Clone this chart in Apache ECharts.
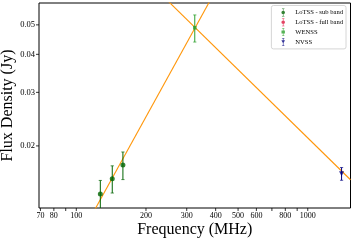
<!DOCTYPE html>
<html><head><meta charset="utf-8">
<script src="https://cdn.jsdelivr.net/npm/echarts@6/dist/echarts.min.js"></script>
<style>html,body{margin:0;padding:0;background:#fff}#c{width:353px;height:242px}</style>
</head><body><div id="c"></div>
<script>
// ---- data ----
const seriesNames = ['LoTSS - sub band', 'LoTSS - full band', 'WENSS', 'NVSS'];
const lotssSubFreq = [127, 143, 159];
const lotssSubFlux = [0.0139, 0.0156, 0.0173];
const lotssSubErr = [0.0015, 0.0016, 0.0018];
const lotssFullFreq = [];
const lotssFullFlux = [];
const lotssFullErr = [];
const wenssFreq = [325];
const wenssFlux = [0.0489];
const wenssErr = [0.0050];
const nvssFreq = [1400];
const nvssFlux = [0.0162];
const nvssErr = [0.00078];
// power-law fits: S = pivotFlux * (nu / pivotFreq)^alpha
const fitPivotFreq = [325, 325];
const fitPivotFlux = [0.0487, 0.0491];
const fitAlpha = [1.38, -0.745];
// axes
const xMin = 69, xMax = 1530, yMin = 0.0125, yMax = 0.059;
const xTickValues = [70, 80, 90, 100, 200, 300, 400, 500, 600, 700, 800, 900, 1000];
const xTickLabels = ['70', '80', '', '100', '200', '300', '400', '500', '600', '', '800', '', '1000'];
const yTickValues = [0.02, 0.03, 0.04, 0.05];
const yTickLabels = ['0.02', '0.03', '0.04', '0.05'];

const FONT = '"Liberation Serif", "DejaVu Serif", serif';
const colSub = '#006400', colFull = '#dc143c', colWenss = '#2ca02c', colNvss = '#000080', colFit = '#ff960a';

function pts(f, s) { return f.map((v, i) => [v, s[i]]); }
function errs(f, s, e) { return f.map((v, i) => [v, s[i], s[i] - e[i], s[i] + e[i]]); }

function errRender(color) {
  return function (params, api) {
    const x = api.value(0);
    const lo = api.coord([x, api.value(2)]);
    const hi = api.coord([x, api.value(3)]);
    const w = 1.6;
    const st = { stroke: color, lineWidth: 1 };
    return { type: 'group', children: [
      { type: 'line', shape: { x1: lo[0], y1: lo[1], x2: hi[0], y2: hi[1] }, style: st },
      { type: 'line', shape: { x1: lo[0] - w, y1: lo[1], x2: lo[0] + w, y2: lo[1] }, style: { stroke: color, lineWidth: 0.7 } },
      { type: 'line', shape: { x1: hi[0] - w, y1: hi[1], x2: hi[0] + w, y2: hi[1] }, style: { stroke: color, lineWidth: 0.7 } }
    ]};
  };
}

function errSeries(data, color) {
  return { type: 'custom', coordinateSystem: 'cartesian2d', clip: true, silent: true,
    encode: { x: 0, y: [1, 2, 3] }, data: data, renderItem: errRender(color), z: 3 };
}

function fitLine(k) {
  const f = nu => fitPivotFlux[k] * Math.pow(nu / fitPivotFreq[k], fitAlpha[k]);
  return { type: 'line', data: [[xMin, f(xMin)], [xMax, f(xMax)]], showSymbol: false, clip: true, silent: true,
    lineStyle: { color: colFit, width: 1.1 }, z: 2 };
}

const xTickSeries = {
  type: 'custom', coordinateSystem: 'cartesian2d', clip: false, silent: true,
  data: xTickValues.map(v => [v, yMin]),
  renderItem: function (params, api) {
    const p = api.coord([api.value(0), yMin]);
    const lab = xTickLabels[params.dataIndex];
    const ch = [{ type: 'line', shape: { x1: p[0], y1: p[1], x2: p[0], y2: p[1] + 3 }, style: { stroke: '#000', lineWidth: 0.8 } }];
    if (lab) ch.push({ type: 'text', x: p[0], y: p[1] + 3.5, style: { text: lab, fill: '#000', fontSize: 8, fontFamily: FONT, align: 'center', verticalAlign: 'top' } });
    return { type: 'group', children: ch };
  }
};
const yTickSeries = {
  type: 'custom', coordinateSystem: 'cartesian2d', clip: false, silent: true,
  data: yTickValues.map(v => [xMin, v]),
  renderItem: function (params, api) {
    const p = api.coord([xMin, api.value(1)]);
    const lab = yTickLabels[params.dataIndex];
    return { type: 'group', children: [
      { type: 'line', shape: { x1: p[0] - 3, y1: p[1], x2: p[0], y2: p[1] }, style: { stroke: '#000', lineWidth: 0.8 } },
      { type: 'text', x: p[0] - 4, y: p[1], style: { text: lab, fill: '#000', fontSize: 8.5, fontFamily: FONT, align: 'right', verticalAlign: 'middle' } }
    ]};
  }
};

const iconCircle = 'path://M4.4,0H5.6V16H4.4Z M2.5,0H7.5V1H2.5Z M2.5,15H7.5V16H2.5Z M5,4.4A3.6,3.6,0,1,1,4.99,4.4Z';
const iconSquare = 'path://M4.4,0H5.6V16H4.4Z M2.5,0H7.5V1H2.5Z M2.5,15H7.5V16H2.5Z M1.6,5H8.4V11H1.6Z';
const iconTri = 'path://M4.4,0H5.6V16H4.4Z M2.5,0H7.5V1H2.5Z M2.5,15H7.5V16H2.5Z M1.4,4.8H8.6L5,11.2Z';

const chart = echarts.init(document.getElementById('c'), null, { renderer: 'canvas' });
chart.setOption({
  animation: false,
  backgroundColor: '#fff',
  grid: { left: 39, right: 2.5, top: 3, bottom: 34, show: true, borderColor: '#000', borderWidth: 1, backgroundColor: 'transparent', outerBoundsMode: 'none', containLabel: false },
  xAxis: { type: 'log', logBase: 10, min: xMin, max: xMax,
    axisLine: { show: false }, axisTick: { show: false }, axisLabel: { show: false }, splitLine: { show: false },
    name: 'Frequency (MHz)', nameLocation: 'middle', nameGap: 14,
    nameTextStyle: { fontFamily: FONT, fontSize: 16, color: '#000' } },
  yAxis: { type: 'log', logBase: 10, min: yMin, max: yMax,
    axisLine: { show: false }, axisTick: { show: false }, axisLabel: { show: false }, splitLine: { show: false },
    name: 'Flux Density (Jy)', nameLocation: 'middle', nameGap: 23,
    nameTextStyle: { fontFamily: FONT, fontSize: 16, color: '#000' } },
  legend: {
    orient: 'vertical', right: 7, top: 5.5,
    itemWidth: 6, itemHeight: 8, itemGap: 1.8,
    padding: [3, 3, 3, 10], textStyle: { fontFamily: FONT, fontSize: 6.6, color: '#000', padding: [0, 0, 0, 4] },
    backgroundColor: '#fff', borderColor: '#cccccc', borderWidth: 0.8, borderRadius: 2,
    data: [
      { name: seriesNames[0], icon: iconCircle },
      { name: seriesNames[1], icon: iconCircle },
      { name: seriesNames[2], icon: iconSquare },
      { name: seriesNames[3], icon: iconTri }
    ]
  },
  series: [
    fitLine(0), fitLine(1),
    errSeries(errs(lotssSubFreq, lotssSubFlux, lotssSubErr), colSub),
    errSeries(errs(lotssFullFreq, lotssFullFlux, lotssFullErr), colFull),
    errSeries(errs(wenssFreq, wenssFlux, wenssErr), colWenss),
    errSeries(errs(nvssFreq, nvssFlux, nvssErr), colNvss),
    { name: seriesNames[0], type: 'scatter', data: pts(lotssSubFreq, lotssSubFlux), symbol: 'circle', symbolSize: 5, itemStyle: { color: colSub }, z: 4 },
    { name: seriesNames[1], type: 'scatter', data: pts(lotssFullFreq, lotssFullFlux), symbol: 'circle', symbolSize: 5, itemStyle: { color: colFull }, z: 4 },
    { name: seriesNames[2], type: 'scatter', data: pts(wenssFreq, wenssFlux), symbol: 'rect', symbolSize: 3.6, itemStyle: { color: colWenss }, z: 4 },
    { name: seriesNames[3], type: 'scatter', data: pts(nvssFreq, nvssFlux), symbol: 'triangle', symbolRotate: 180, symbolSize: 5, itemStyle: { color: colNvss }, z: 4 },
    xTickSeries, yTickSeries
  ]
});
</script>
</body></html>
